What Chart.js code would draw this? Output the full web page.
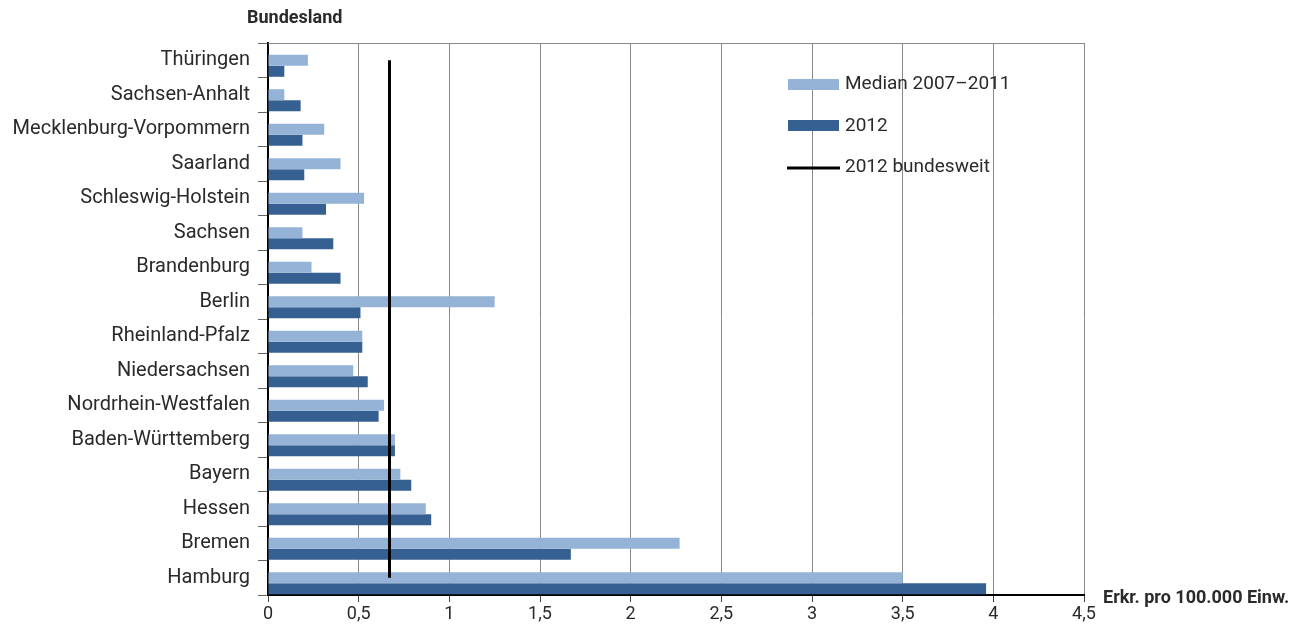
<!DOCTYPE html>
<html>
<head>
<meta charset="utf-8">
<script src="https://cdn.jsdelivr.net/npm/chart.js@4"></script>
<style>
  body { margin: 0; background: #fff; }
</style>
</head>
<body>
<canvas id="chart" width="1305" height="632"></canvas>
<script>
// Bundesländer (von oben nach unten)
const laender = ['Thüringen', 'Sachsen-Anhalt', 'Mecklenburg-Vorpommern', 'Saarland', 'Schleswig-Holstein',
    'Sachsen', 'Brandenburg', 'Berlin', 'Rheinland-Pfalz', 'Niedersachsen', 'Nordrhein-Westfalen',
    'Baden-Württemberg', 'Bayern', 'Hessen', 'Bremen', 'Hamburg'];

// Median 2007–2011
const median0711 = [0.22, 0.09, 0.31, 0.40, 0.53, 0.19, 0.24, 1.25, 0.52, 0.47, 0.64, 0.70, 0.73, 0.87, 2.27, 3.50];
// 2012
const werte2012 = [0.09, 0.18, 0.19, 0.20, 0.32, 0.36, 0.40, 0.51, 0.52, 0.55, 0.61, 0.70, 0.79, 0.90, 1.67, 3.96];
// 2012 bundesweit
const bundesweit = 0.67;

const xTicks = [0, 0.5, 1, 1.5, 2, 2.5, 3, 3.5, 4, 4.5];

const hellBlau = '#95b3d7';
const dunkelBlau = '#366092';
const textFarbe = '#2a2a2a';

// Legende + Achsentitel selbst zeichnen
const extras = {
    id: 'extras',
    afterDraw(chart) {
        const ctx = chart.ctx;
        const a = chart.chartArea;
        ctx.save();

        // obere Rahmenlinie
        ctx.strokeStyle = '#888';
        ctx.lineWidth = 1;
        ctx.beginPath();
        ctx.moveTo(a.left, a.top + 0.5);
        ctx.lineTo(a.right, a.top + 0.5);
        ctx.stroke();

        // Legende
        const lx = 788, tx = 845;
        ctx.font = '19px Roboto';
        ctx.textBaseline = 'middle';
        ctx.textAlign = 'left';

        ctx.fillStyle = hellBlau;
        ctx.fillRect(lx, 79, 51, 11);
        ctx.fillStyle = textFarbe;
        ctx.fillText('Median 2007–2011', tx, 84);

        ctx.fillStyle = dunkelBlau;
        ctx.fillRect(lx, 120, 51, 11);
        ctx.fillStyle = textFarbe;
        ctx.fillText('2012', tx, 126);

        ctx.strokeStyle = '#000';
        ctx.lineWidth = 3;
        ctx.beginPath();
        ctx.moveTo(lx - 1, 168);
        ctx.lineTo(lx + 52, 168);
        ctx.stroke();
        ctx.fillText('2012 bundesweit', tx, 167);

        // Achsentitel
        ctx.font = 'bold 18px Roboto';
        ctx.fillText('Bundesland', 247, 18);
        ctx.fillText('Erkr. pro 100.000 Einw.', 1103, 598);

        ctx.restore();
    }
};

const config = {
    type: 'bar',
    data: {
        labels: laender,
        datasets: [
            {
                // Platzhalter, damit die Balken wie im Original nach unten versetzt sind
                label: '',
                data: laender.map(() => null),
                backgroundColor: 'rgba(0,0,0,0)'
            },
            {
                label: 'Median 2007–2011',
                data: median0711,
                backgroundColor: hellBlau
            },
            {
                label: '2012',
                data: werte2012,
                backgroundColor: dunkelBlau
            },
            {
                type: 'line',
                label: '2012 bundesweit',
                data: laender.map(() => bundesweit),
                borderColor: '#000',
                borderWidth: 3,
                pointRadius: 0,
                fill: false,
                order: -1
            }
        ]
    },
    options: {
        indexAxis: 'y',
        responsive: false,
        animation: false,
        barPercentage: 1,
        categoryPercentage: 0.96,
        layout: {
            padding: { top: 43, right: 221, bottom: 0, left: 0 }
        },
        plugins: {
            legend: { display: false },
            tooltip: { enabled: false }
        },
        scales: {
            x: {
                type: 'linear',
                min: 0,
                max: 4.5,
                afterBuildTicks: (scale) => {
                    scale.ticks = xTicks.map(v => ({ value: v }));
                },
                afterFit: (scale) => { scale.height = 37; },
                border: { color: '#000', width: 2 },
                grid: {
                    color: '#888',
                    lineWidth: 1,
                    tickColor: '#444',
                    tickLength: 7
                },
                ticks: {
                    padding: 2,
                    color: textFarbe,
                    font: { family: 'Roboto', size: 18 },
                    callback: (v) => String(v).replace('.', ',')
                }
            },
            y: {
                afterFit: (scale) => { scale.width = 268; },
                border: { color: '#000', width: 2 },
                grid: {
                    drawOnChartArea: false,
                    offset: true,
                    tickColor: '#666',
                    tickLength: 10
                },
                ticks: {
                    padding: 8,
                    color: textFarbe,
                    font: { family: 'Roboto', size: 20 }
                }
            }
        }
    },
    plugins: [extras]
};

const chart = new Chart(document.getElementById('chart'), config);
</script>
</body>
</html>
